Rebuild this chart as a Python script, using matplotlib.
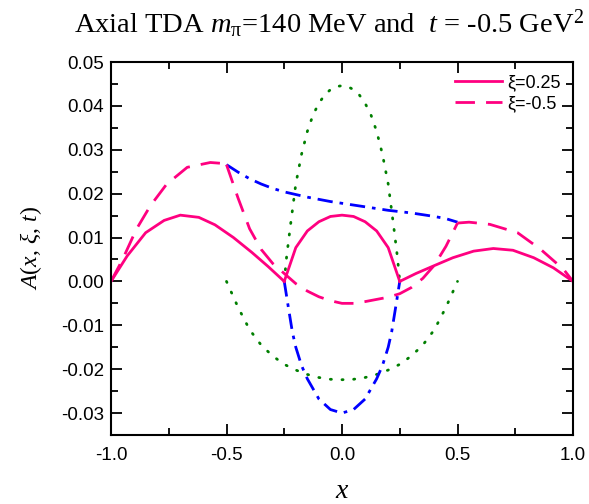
import matplotlib
matplotlib.use("Agg")
import matplotlib.pyplot as plt
from matplotlib.ticker import MultipleLocator, FormatStrFormatter
from matplotlib.lines import Line2D

plt.rcParams['mathtext.fontset'] = 'custom'
plt.rcParams['mathtext.rm'] = 'Liberation Serif'
plt.rcParams['mathtext.it'] = 'Liberation Serif:italic'
plt.rcParams['font.family'] = ['Liberation Sans', 'DejaVu Sans']

# ---- data ----
# xi = 0.25 (solid pink), three regions
s1_x = [-1.0, -0.93, -0.85, -0.77, -0.70, -0.62, -0.55, -0.47, -0.39, -0.32, -0.25]
s1_y = [0.0, 0.0058, 0.0111, 0.0139, 0.0151, 0.0146, 0.0129, 0.0100, 0.0066, 0.0034, 0.0]
s2_x = [-0.25, -0.2, -0.15, -0.1, -0.05, 0.0, 0.05, 0.1, 0.15, 0.2, 0.25]
s2_y = [0.0, 0.0077, 0.0115, 0.0136, 0.0148, 0.0151, 0.0148, 0.0136, 0.0115, 0.0077, 0.0]
s3_x = [0.25, 0.32, 0.395, 0.48, 0.57, 0.655, 0.74, 0.83, 0.915, 1.0]
s3_y = [0.0, 0.0018, 0.0035, 0.0054, 0.0069, 0.0075, 0.0071, 0.0054, 0.0031, 0.0]

# xi = -0.5 (dashed pink)
d1_x = [-1.0, -0.95, -0.89, -0.83, -0.76, -0.67, -0.57, -0.52, -0.5]
d1_y = [0.0, 0.0050, 0.0119, 0.0172, 0.0221, 0.0260, 0.0271, 0.0269, 0.0266]
d2_x = [-0.5, -0.45, -0.4, -0.35, -0.3, -0.25, -0.2, -0.15, -0.1, -0.05, 0.0,
        0.05, 0.1, 0.15, 0.2, 0.25, 0.3, 0.35, 0.4, 0.45, 0.5]
d2_y = [0.0266, 0.0190, 0.0120, 0.0073, 0.0041, 0.0018, -0.0005, -0.0022, -0.0035, -0.0044, -0.0050,
        -0.0050, -0.0046, -0.0041, -0.0036, -0.0028, -0.0014, 0.0007, 0.0037, 0.0080, 0.0133]
d3_x = [0.5, 0.55, 0.64, 0.76, 0.86, 0.96, 1.0]
d3_y = [0.0133, 0.0135, 0.0130, 0.0111, 0.0073, 0.0027, 0.0]

# blue dash-dot
b1_x = [-0.5, -0.45, -0.4, -0.35, -0.3, -0.25, -0.2, -0.15, -0.1, -0.05, 0.0,
        0.05, 0.1, 0.15, 0.2, 0.25, 0.3, 0.35, 0.4, 0.45, 0.5]
b1_y = [0.0266, 0.0249, 0.0234, 0.0222, 0.0212, 0.0204, 0.0198, 0.0192, 0.0187, 0.0182, 0.0178,
        0.0174, 0.0170, 0.0166, 0.0162, 0.0159, 0.0156, 0.0152, 0.0148, 0.0143, 0.0135]
b2_x = [-0.25, -0.235, -0.215, -0.2, -0.175, -0.15, -0.1, -0.05, 0.0,
        0.05, 0.1, 0.15, 0.175, 0.2, 0.215, 0.235, 0.25]
b2_y = [0.0, -0.0050, -0.0115, -0.0150, -0.0192, -0.0222, -0.0268, -0.0292, -0.0300,
        -0.0292, -0.0268, -0.0222, -0.0192, -0.0150, -0.0115, -0.0050, 0.0]

# green dotted
g1_x = [-0.25, -0.24, -0.225, -0.2, -0.175, -0.15, -0.125, -0.1, -0.075, -0.05, -0.025, 0.0,
        0.025, 0.05, 0.075, 0.1, 0.125, 0.15, 0.175, 0.2, 0.225, 0.24, 0.25]
g1_y = [0.0, 0.0055, 0.0120, 0.0222, 0.0290, 0.0342, 0.0380, 0.0406, 0.0425, 0.0437, 0.0444, 0.0446,
        0.0444, 0.0437, 0.0425, 0.0406, 0.0380, 0.0342, 0.0290, 0.0222, 0.0120, 0.0055, 0.0]
g2_x = [-0.5, -0.45, -0.4, -0.35, -0.3, -0.25, -0.2, -0.15, -0.1, -0.05, 0.0,
        0.05, 0.1, 0.15, 0.2, 0.25, 0.3, 0.35, 0.4, 0.45, 0.5]
g2_y = [0.0, -0.0059, -0.0110, -0.0145, -0.0170, -0.0189, -0.0202, -0.0212, -0.0219, -0.0223, -0.0224,
        -0.0223, -0.0219, -0.0212, -0.0202, -0.0189, -0.0170, -0.0145, -0.0110, -0.0059, 0.0]

legend_labels = ['ξ=0.25', 'ξ=-0.5']

PINK = '#FF0080'
BLUE = '#0000FF'
GREEN = '#007F00'

fig = plt.figure(figsize=(5.89, 5.04), dpi=100)
ax = fig.add_axes([111/589, 1-435/504, (573-111)/589, (435-62)/504])

lw = 2.0
for xs, ys in [(g1_x, g1_y), (g2_x, g2_y)]:
    ax.plot(xs, ys, color=GREEN, lw=2.0, dashes=(0.4, 3.8), dash_capstyle='round')
for xs, ys in [(b1_x, b1_y), (b2_x, b2_y)]:
    ax.plot(xs, ys, color=BLUE, lw=lw, dashes=(5.5, 2.5, 1.3, 2.5))
for xs, ys in [(d1_x, d1_y), (d2_x, d2_y), (d3_x, d3_y)]:
    ax.plot(xs, ys, color=PINK, lw=lw, dashes=(7, 4))
for xs, ys in [(s1_x, s1_y), (s2_x, s2_y), (s3_x, s3_y)]:
    ax.plot(xs, ys, color=PINK, lw=lw, solid_joinstyle='miter')

ax.set_xlim(-1.0, 1.0)
ax.set_ylim(-0.035, 0.05)
ax.xaxis.set_major_locator(MultipleLocator(0.5))
ax.xaxis.set_minor_locator(MultipleLocator(0.25))
ax.yaxis.set_major_locator(MultipleLocator(0.01))
ax.yaxis.set_minor_locator(MultipleLocator(0.005))
ax.xaxis.set_major_formatter(FormatStrFormatter('%.1f'))
ax.yaxis.set_major_formatter(FormatStrFormatter('%.2f'))
ax.tick_params(which='both', direction='in', top=True, right=True, width=1.3, labelsize=13.5)
ax.tick_params(which='major', length=8)
ax.tick_params(which='minor', length=5)
ax.tick_params(axis='x', which='major', pad=9)
ax.tick_params(axis='y', which='major', pad=5)
for sp in ax.spines.values():
    sp.set_linewidth(1.5)

ax.set_xlabel('$x$', fontsize=20, labelpad=10)
ax.set_ylabel(r'$A(x,\,\xi,\,t)$', fontsize=17, labelpad=12)
fig.text(0.5 + 34/589, 1-24/504, r'Axial TDA $m_{\mathrm{\pi}}$=140 MeV and  $t$ = -0.5 GeV$^2$',
         ha='center', va='center', fontsize=20.5, family='Liberation Serif')

handles = [Line2D([], [], color=PINK, lw=lw),
           Line2D([], [], color=PINK, lw=lw, dashes=(7, 4))]
ax.legend(handles, legend_labels, loc='upper right', frameon=False, fontsize=13,
          handlelength=2.6, handletextpad=0.25, labelspacing=0.2,
          bbox_to_anchor=(1.0, 1.0), borderaxespad=0.3)

fig.savefig('out.png', dpi=100)
